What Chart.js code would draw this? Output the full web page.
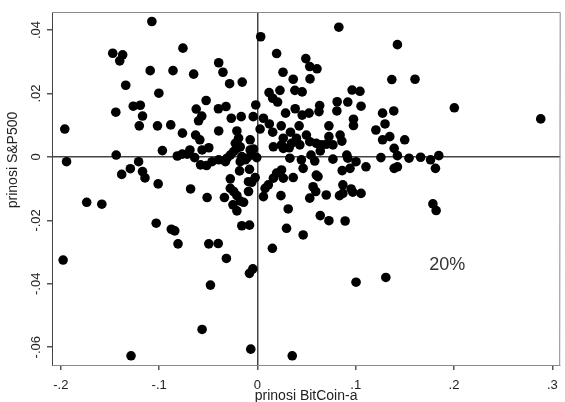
<!DOCTYPE html>
<html>
<head>
<meta charset="utf-8">
<script src="https://cdn.jsdelivr.net/npm/chart.js@4.4.1/dist/chart.umd.min.js"></script>
<style>
  body { margin: 0; background: #fff; }
  canvas { display: block; }
</style>
</head>
<body>
<canvas id="scatterChart" width="565" height="402"></canvas>
<script>
// weekly returns (BitCoin on x, S&P500 on y)
const btcReturns = [
  -0.1074, -0.1472, -0.1371, -0.1401, -0.0758, -0.1091, -0.0859, -0.1340, -0.1003, -0.1263,
  -0.1192, -0.1169, -0.1441, -0.1202, -0.1017, -0.0882,
  0.0033, 0.0195, 0.0492, 0.0532, -0.0394, -0.0351, -0.0649, 0.0260, 0.0364, 0.0535,
  -0.0283, -0.0155, 0.0229, 0.0118, 0.0381, 0.0455, 0.0155, 0.0205, -0.0522, -0.0623,
  -0.0397, -0.0320, -0.0017, 0.0384, 0.0286, 0.0455, 0.0525, -0.0566, -0.0599, -0.0266,
  -0.0165, -0.0043, 0.0061, 0.0121, 0.0242, 0.0424,
  0.0828, 0.1424, 0.0606, 0.1367, 0.1603, 0.0963, 0.1043, 0.0811, 0.0919, 0.1054,
  0.0633, 0.0626, 0.0808, 0.1273, 0.1387, 0.0977, 0.0977, 0.1298, 0.0727,
  0.2003, 0.2882,
  -0.1960, -0.0763, -0.1942, -0.1437, -0.1209, -0.1293, -0.1381, -0.1169, -0.1144, -0.1010,
  -0.0967, -0.0815, -0.0765, -0.1737, -0.1583, -0.1030, -0.0876, -0.0841, -0.0808, -0.1977,
  -0.1286,
  -0.0394, -0.0209, 0.0027, 0.0155, 0.0336, -0.0629, -0.0586, -0.0192, -0.0074, 0.0263,
  0.0397, 0.0498, -0.0225, -0.0209, -0.0242, -0.0276, -0.0310, -0.0175, -0.0687, -0.0563,
  -0.0495, -0.0074, -0.0040, -0.0159, -0.0108, -0.0058, -0.0007, 0.0162, 0.0245, 0.0263,
  0.0323, 0.0346, 0.0431, 0.0532, -0.0714, -0.0639, -0.0579, -0.0518, -0.0462, -0.0394,
  -0.0326, -0.0175, -0.0124, 0.0330, 0.0447, 0.0545, 0.0465, -0.0182, -0.0081, -0.0276,
  -0.0023, -0.0058, -0.0091, 0.0162, 0.0195, 0.0245, 0.0263, 0.0364, -0.0680, -0.0512,
  -0.0336, -0.0276, -0.0242, -0.0209, -0.0175, -0.0141, -0.0249, -0.0209, -0.0091, 0.0061,
  0.0111, 0.0078, 0.0239, 0.0313, 0.0532, -0.0159, -0.0081, 0.0296, 0.0465, -0.0495,
  -0.0399,
  0.1205, 0.0727, 0.0841, 0.0859, 0.0599, 0.0649, 0.0700, 0.0768, 0.0639, 0.1273,
  0.1346, 0.1498, 0.1391, 0.1424, 0.0583, 0.0768, 0.0909, 0.0919, 0.1003, 0.1256,
  0.1542, 0.1660, 0.1761, 0.1845, 0.1811, 0.0862, 0.0942, 0.1104, 0.1391, 0.1424,
  0.0599, 0.0616, 0.0566, 0.0593, 0.0700, 0.0835, 0.0869, 0.0869, 0.0953, 0.0970,
  0.1054, 0.1785, 0.1818, 0.0639, 0.0727, 0.0892,
  0.0152, -0.0316, -0.0047, -0.0081, -0.0478, -0.0563, -0.0068, 0.0354,
  0.1003, 0.1306
];
const spReturns = [
  0.0427, 0.0327, 0.0322, 0.0303, 0.0343, 0.0272, 0.0272, 0.0226, 0.0201, 0.0160,
  0.0163, 0.0129, 0.0141, 0.0098, 0.0098, 0.0101,
  0.0379, 0.0326, 0.0310, 0.0285, 0.0297, 0.0267, 0.0261, 0.0267, 0.0245, 0.0246,
  0.0231, 0.0236, 0.0210, 0.0203, 0.0210, 0.0205, 0.0185, 0.0173, 0.0178, 0.0151,
  0.0152, 0.0159, 0.0164, 0.0152, 0.0138, 0.0132, 0.0138, 0.0129, 0.0114, 0.0122,
  0.0127, 0.0127, 0.0122, 0.0104, 0.0098, 0.0098,
  0.0409, 0.0354, 0.0278, 0.0244, 0.0245, 0.0211, 0.0207, 0.0174, 0.0173, 0.0160,
  0.0162, 0.0143, 0.0145, 0.0138, 0.0145, 0.0119, 0.0099, 0.0104, 0.0098,
  0.0155, 0.0120,
  0.0088, 0.0075, -0.0015, 0.0006, -0.0015, -0.0037, -0.0055, -0.0046, -0.0066, -0.0085,
  0.0020, 0.0003, 0.0009, -0.0143, -0.0149, -0.0209, -0.0228, -0.0233, -0.0274, -0.0325,
  -0.0627,
  0.0082, 0.0082, 0.0088, 0.0078, 0.0078, 0.0069, 0.0054, 0.0059, 0.0054, 0.0059,
  0.0059, 0.0069, 0.0043, 0.0027, 0.0017, 0.0006, -0.0004, 0.0032, 0.0022, 0.0022,
  0.0029, 0.0022, 0.0025, 0.0001, -0.0004, 0.0006, -0.0002, 0.0032, 0.0038, 0.0027,
  0.0029, 0.0043, 0.0038, 0.0048, 0.0009, -0.0002, -0.0025, -0.0027, -0.0015, -0.0009,
  -0.0015, -0.0015, -0.0009, -0.0004, -0.0009, 0.0006, -0.0036, -0.0044, -0.0039, -0.0069,
  -0.0065, -0.0080, -0.0078, -0.0067, -0.0051, -0.0041, -0.0067, -0.0065, -0.0101, -0.0128,
  -0.0128, -0.0099, -0.0109, -0.0122, -0.0139, -0.0143, -0.0151, -0.0170, -0.0109, -0.0125,
  -0.0088, -0.0099, -0.0122, -0.0164, -0.0130, -0.0217, -0.0215, -0.0225, -0.0246, -0.0274,
  -0.0273,
  0.0085, 0.0064, 0.0069, 0.0050, 0.0043, 0.0038, 0.0040, 0.0038, 0.0019, 0.0054,
  0.0064, 0.0054, 0.0027, 0.0004, -0.0013, -0.0007, 0.0006, -0.0004, -0.0015, -0.0002,
  -0.0004, -0.0001, -0.0009, 0.0004, -0.0036, -0.0043, -0.0036, -0.0031, -0.0036, -0.0031,
  -0.0057, -0.0062, -0.0094, -0.0109, -0.0120, -0.0122, -0.0115, -0.0088, -0.0101, -0.0111,
  -0.0115, -0.0148, -0.0169, -0.0185, -0.0201, -0.0202,
  -0.0288, -0.0320, -0.0353, -0.0367, -0.0404, -0.0544, -0.0606, -0.0627,
  -0.0395, -0.0380
];

const xTicks = [-0.2, -0.1, 0, 0.1, 0.2, 0.3];
const xTickLabels = ['-.2', '-.1', '0', '.1', '.2', '.3'];
const yTicks = [0.04, 0.02, 0, -0.02, -0.04, -0.06];
const yTickLabels = ['.04', '.02', '0', '-.02', '-.04', '-.06'];

const xTitle = 'prinosi BitCoin-a';
const yTitle = 'prinosi S&P500';
const noteText = '20%';
const notePos = { x: 0.193, y: -0.034 };

const FONT = "'Liberation Sans', Arial, sans-serif";

const points = btcReturns.map((x, i) => ({ x: x, y: spReturns[i] }));

// frame, rotated y labels, titles and the note
const decorPlugin = {
  id: 'decor',
  afterDraw(chart) {
    const ctx = chart.ctx;
    const area = chart.chartArea;
    const ys = chart.scales.y;
    const xs = chart.scales.x;
    ctx.save();

    // top and right sides of the box
    ctx.strokeStyle = '#8a8a8a';
    ctx.lineWidth = 1;
    ctx.beginPath();
    ctx.moveTo(area.left, area.top + 0.5);
    ctx.lineTo(area.right, area.top + 0.5);
    ctx.lineTo(area.right - 0.5, area.bottom);
    ctx.stroke();

    ctx.fillStyle = '#222';
    ctx.font = '13px ' + FONT;
    ctx.textAlign = 'center';
    ctx.textBaseline = 'middle';
    yTicks.forEach((v, i) => {
      const py = ys.getPixelForValue(v);
      ctx.save();
      ctx.translate(36, py);
      ctx.rotate(-Math.PI / 2);
      ctx.fillText(yTickLabels[i], 0, 0);
      ctx.restore();
    });

    ctx.font = '14px ' + FONT;
    ctx.save();
    ctx.translate(13, 160);
    ctx.rotate(-Math.PI / 2);
    ctx.fillText(yTitle, 0, 0);
    ctx.restore();

    ctx.fillText(xTitle, (area.left + area.right) / 2, 396);

    ctx.fillStyle = '#333';
    ctx.font = '18px ' + FONT;
    ctx.fillText(noteText, xs.getPixelForValue(notePos.x), ys.getPixelForValue(notePos.y));
    ctx.restore();
  }
};

new Chart(document.getElementById('scatterChart'), {
  type: 'scatter',
  data: {
    datasets: [{
      data: points,
      backgroundColor: '#000',
      borderColor: '#000',
      borderWidth: 0,
      pointRadius: 4.8,
      pointHoverRadius: 4.8
    }]
  },
  options: {
    responsive: false,
    animation: false,
    devicePixelRatio: 1,
    layout: { padding: { top: 12, right: 1, left: 0, bottom: 0 } },
    plugins: { legend: { display: false }, tooltip: { enabled: false } },
    scales: {
      x: {
        type: 'linear',
        min: -0.209,
        max: 0.308,
        afterBuildTicks: s => { s.ticks = xTicks.map(v => ({ value: v })); },
        afterFit: s => { s.height = 37; s.paddingLeft = 0; s.paddingRight = 0; },
        ticks: {
          color: '#222',
          font: { family: FONT, size: 13 },
          padding: 8,
          maxRotation: 0,
          callback: v => xTickLabels[xTicks.indexOf(v)]
        },
        grid: {
          color: c => (c.tick && c.tick.value === 0) ? '#444' : 'rgba(0,0,0,0)',
          lineWidth: 1.5,
          tickColor: '#555',
          tickLength: 5
        },
        border: { display: true, color: '#8a8a8a', width: 1 }
      },
      y: {
        type: 'linear',
        min: -0.0656,
        max: 0.0457,
        afterBuildTicks: s => { s.ticks = yTicks.map(v => ({ value: v })); },
        afterFit: s => { s.width = 52; s.paddingTop = 0; s.paddingBottom = 0; },
        ticks: { display: false },
        grid: {
          color: c => (c.tick && c.tick.value === 0) ? '#444' : 'rgba(0,0,0,0)',
          lineWidth: 1.5,
          tickColor: '#555',
          tickLength: 5
        },
        border: { display: true, color: '#444', width: 1 }
      }
    }
  },
  plugins: [decorPlugin]
});
</script>
</body>
</html>
